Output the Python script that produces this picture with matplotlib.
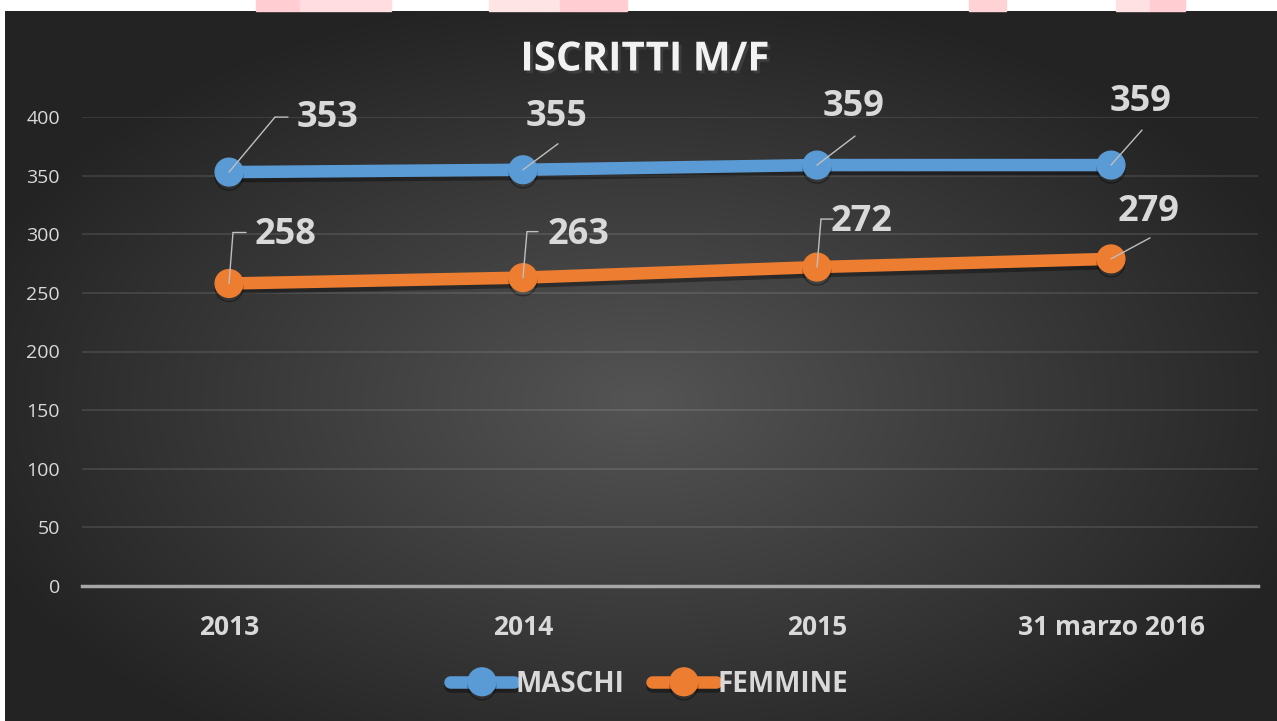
import numpy as np
import matplotlib
matplotlib.use('Agg')
import matplotlib.pyplot as plt
import matplotlib.patheffects as pe
from matplotlib.patches import Rectangle
from matplotlib.transforms import offset_copy

plt.rcParams['font.family'] = ['Open Sans', 'DejaVu Sans']

categories = ['2013', '2014', '2015', '31 marzo 2016']
maschi = [353, 355, 359, 359]
femmine = [258, 263, 272, 279]
yticks = [0, 50, 100, 150, 200, 250, 300, 350, 400]

# label placement in pixels from each point: text centre, leader elbow, leader end
m_text = [(99, 54), (34, 53), (37, 58), (30, 63)]
m_lead = [[(46, 55), (59, 55)], [(35, 26)], [(38, 29)], [(31, 35)]]
f_text = [(57, 48), (56, 43), (45, 45), (38, 47)]
f_lead = [[(4, 51), (17, 51)], [(4, 46), (15, 46)], [(4, 48), (16, 48)], [(39, 21)]]

W, H = 1277, 721
fig = plt.figure(figsize=(W / 100, H / 100), dpi=100)
fig.patch.set_facecolor('white')

# pinkish strip above the chart
for x0, x1, c in [(256, 300, '#ffcdd2'), (300, 391, '#ffdde0'), (489, 560, '#ffe4e6'),
                  (560, 627, '#ffcdd2'), (969, 1006, '#ffd3d6'), (1116, 1150, '#ffe0e3'),
                  (1150, 1185, '#ffcdd2')]:
    fig.patches.append(Rectangle((x0 / W, 1 - 11 / H), (x1 - x0) / W, 11 / H,
                                 transform=fig.transFigure, color=c, zorder=0))

# dark radial background
bg = fig.add_axes([5 / W, 0, 1 - 5 / W, (H - 11) / H])
bg.axis('off')
gx, gy = np.meshgrid(np.linspace(-1, 1, 400), np.linspace(-1, 1, 240))
r = np.sqrt((gx / 1.05) ** 2 + ((gy - 0.1) / 1.1) ** 2)
shade = np.clip(0.33 - 0.18 * r, 0.14, 0.33)
bg.imshow(np.dstack([shade] * 3), aspect='auto', extent=[0, 1, 0, 1], zorder=0)

ax = fig.add_axes([82 / W, 135 / H, 1176 / W, 469 / H])
ax.patch.set_alpha(0)
x = np.arange(len(categories))

shadow = [pe.SimpleLineShadow(offset=(0, -3), shadow_color='black', alpha=0.35), pe.Normal()]
ax.plot(x, maschi, color='#5b9bd5', lw=9, marker='o', markersize=20,
        solid_capstyle='round', label='MASCHI', path_effects=shadow, zorder=4)
ax.plot(x, femmine, color='#ed7d31', lw=9, marker='o', markersize=20,
        solid_capstyle='round', label='FEMMINE', path_effects=shadow, zorder=4)

ax.set_xlim(-0.5, 3.5)
ax.set_ylim(0, 400)
ax.set_yticks(yticks)
ax.set_xticks(x)
ax.set_xticklabels(categories, fontsize=19, fontweight='bold', color='#d9d9d9')
ax.tick_params(axis='y', labelsize=14, labelcolor='#d9d9d9', length=0, pad=16)
ax.tick_params(axis='x', length=0, pad=20)
ax.grid(axis='y', color='#ffffff', alpha=0.12, lw=1.2)
ax.set_axisbelow(True)
for s in ['top', 'right', 'left']:
    ax.spines[s].set_visible(False)
ax.spines['bottom'].set_color('#a6a6a6')
ax.spines['bottom'].set_linewidth(2.5)

def labels(vals, texts, leads):
    for i, v in enumerate(vals):
        pts = [(0, 0)] + leads[i]
        for a, b in zip(pts[:-1], pts[1:]):
            start = offset_copy(ax.transData, fig=fig, x=a[0], y=a[1], units='dots')
            ax.annotate('', xy=(i, v), xycoords=start, xytext=(b[0] - a[0], b[1] - a[1]),
                        textcoords='offset pixels',
                        arrowprops=dict(arrowstyle='-', color='#bfbfbf', lw=1,
                                        shrinkA=0, shrinkB=0), zorder=5)
        ax.annotate(str(v), xy=(i, v), xytext=texts[i], textcoords='offset pixels',
                    ha='center', va='center', fontsize=26, fontweight='bold',
                    color='#d9d9d9', zorder=6)

labels(maschi, m_text, m_lead)
labels(femmine, f_text, f_lead)

fig.text(0.505, 1 - 60 / H, 'ISCRITTI M/F', ha='center', va='center', fontsize=29,
         fontweight='bold', color='#f2f2f2',
         path_effects=[pe.withSimplePatchShadow(offset=(2, -2), alpha=0.6)])

leg = fig.legend(loc='center', bbox_to_anchor=(649 / W, 1 - 684 / H), ncol=2, frameon=False,
                 handlelength=2.3, handletextpad=0.05, columnspacing=1.0,
                 prop={'size': 20, 'weight': 'bold'})
for t in leg.get_texts():
    t.set_color('#d9d9d9')

fig.savefig('out.png', dpi=100)
